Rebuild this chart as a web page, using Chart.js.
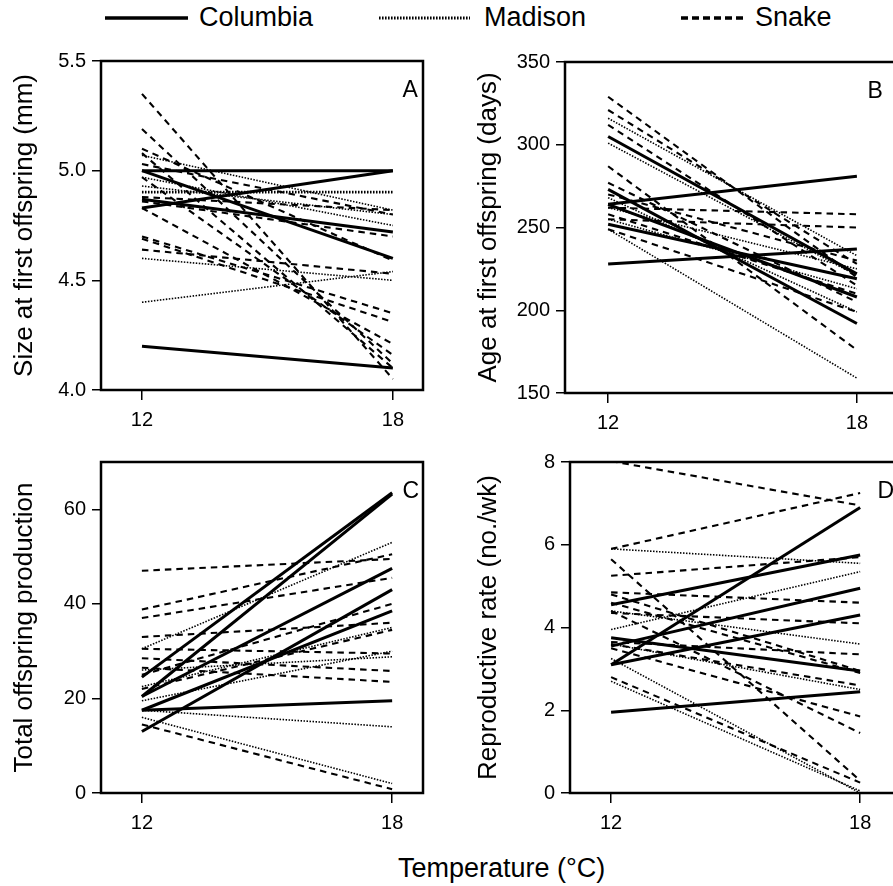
<!DOCTYPE html>
<html>
<head>
<meta charset="utf-8">
<title>Life history traits at 12 and 18 °C</title>
<script src="https://cdn.jsdelivr.net/npm/chart.js@4.4.1/dist/chart.umd.min.js"></script>
<style>
  html, body { margin: 0; padding: 0; background: #fff; overflow: hidden; width: 893px; height: 886px; }
  body { position: relative; font-family: "Liberation Sans", Arial, sans-serif; color: #000; }
  canvas { position: absolute; }
  .lab { position: absolute; font-size: 27px; line-height: 30px; white-space: nowrap; }
  svg.key { position: absolute; left: 0; top: 0; }
</style>
</head>
<body>
<svg class="key" width="893" height="40">
  <line x1="105" y1="18" x2="188" y2="18" stroke="#000" stroke-width="3.5"/>
  <line x1="379" y1="18" x2="470" y2="18" stroke="#000" stroke-width="3" stroke-dasharray="1.6 1.4"/>
  <line x1="681" y1="18" x2="746" y2="18" stroke="#000" stroke-width="3.5" stroke-dasharray="7 4"/>
</svg>
<div class="lab" style="left:199px;top:2px">Columbia</div>
<div class="lab" style="left:484px;top:2px">Madison</div>
<div class="lab" style="left:755px;top:2px">Snake</div>

<canvas id="panel-a" width="440" height="400" style="left:0;top:40px"></canvas>
<canvas id="panel-b" width="470" height="400" style="left:450px;top:40px"></canvas>
<canvas id="panel-c" width="440" height="400" style="left:0;top:440px"></canvas>
<canvas id="panel-d" width="470" height="400" style="left:450px;top:440px"></canvas>

<div class="lab" style="left:398px;top:853px">Temperature (°C)</div>

<script>
const TEMPS = [12, 18];

// each pair: [value at 12 °C, value at 18 °C]
const sizeColumbia = [[5.00, 5.00], [4.83, 5.00], [5.00, 4.60], [4.87, 4.72], [4.20, 4.10]];
const sizeMadison  = [[4.90, 4.90], [4.905, 4.905], [5.07, 4.82], [4.97, 4.75], [4.93, 4.80], [4.60, 4.50], [4.40, 4.54]];
const sizeSnake    = [[5.35, 4.05], [5.19, 4.12], [5.10, 4.59], [5.08, 4.10], [5.03, 4.80], [4.97, 4.16],
                      [4.88, 4.82], [4.86, 4.70], [4.83, 4.21], [4.70, 4.35], [4.69, 4.31], [4.64, 4.53]];

const ageColumbia = [[305, 222], [264, 281], [228, 237], [252, 219], [273, 192], [264, 208]];
const ageMadison  = [[301, 221], [249, 159], [316, 233], [268, 199], [262, 225], [255, 213]];
const ageSnake    = [[329, 220], [321, 228], [312, 215], [287, 176], [277, 205], [262, 258],
                     [255, 250], [249, 199], [270, 230], [258, 210]];

const totalColumbia = [[24.5, 63.5], [20.4, 63.2], [20.4, 47.5], [17.5, 38.5], [17.5, 19.5], [13.0, 43.0]];
const totalMadison  = [[16.0, 2.0], [17.5, 14.0], [30.5, 53.0], [22.5, 35.0], [26.0, 28.8], [19.5, 30.0]];
const totalSnake    = [[47.0, 49.5], [38.8, 50.5], [37.0, 45.5], [33.0, 36.0], [30.5, 29.5], [28.5, 25.8],
                       [26.5, 23.5], [25.0, 40.0], [14.5, 0.8], [22.0, 34.5]];

const rateColumbia = [[4.55, 5.75], [3.10, 6.90], [3.55, 4.95], [3.10, 4.30], [3.75, 2.95], [1.95, 2.45]];
const rateMadison  = [[5.90, 5.55], [3.95, 5.35], [2.70, 0.05], [3.60, 2.50], [4.40, 3.60], [3.25, 0.00]];
const rateSnake    = [[8.02, 6.95], [5.90, 7.25], [5.25, 5.70], [5.65, 0.30], [4.85, 4.60], [4.80, 2.95], [4.35, 4.10],
                      [4.40, 1.45], [3.65, 3.35], [3.60, 2.60], [3.50, 1.85], [2.80, 0.25], [4.60, 2.90]];

const sizeTicks  = [4.0, 4.5, 5.0, 5.5];
const ageTicks   = [150, 200, 250, 300, 350];
const totalTicks = [0, 20, 40, 60];
const rateTicks  = [0, 2, 4, 6, 8];

const FONT = '"Liberation Sans", Arial, sans-serif';
const TICK_FONT = { family: FONT, size: 20 };
const TITLE_FONT = { family: FONT, size: 26 };

const LINE_STYLES = {
    Columbia: { borderWidth: 3,   borderDash: [] },
    Madison:  { borderWidth: 1.6, borderDash: [1.5, 1.5] },
    Snake:    { borderWidth: 2.1, borderDash: [6.5, 5] },
};

const framePlugin = {
    id: 'frame',
    afterDatasetsDraw(chart) {
        const { ctx, chartArea: a } = chart;
        ctx.save();
        ctx.strokeStyle = '#000';
        ctx.lineWidth = 2.5;
        ctx.strokeRect(a.left, a.top, a.right - a.left, a.bottom - a.top);
        ctx.restore();
    }
};

const letterPlugin = {
    id: 'panelLetter',
    afterDraw(chart, args, opts) {
        const { ctx, chartArea, scales } = chart;
        ctx.save();
        ctx.font = `23px ${FONT}`;
        ctx.fillStyle = '#000';
        ctx.textAlign = 'right';
        ctx.textBaseline = 'alphabetic';
        ctx.fillText(opts.text, scales.x.getPixelForValue(18) + opts.dx, chartArea.top + 36);
        ctx.restore();
    }
};

function makeDatasets(groups) {
    // Columbia first so it is painted on top
    return groups.flatMap(([name, pairs]) => pairs.map(p => ({
        label: name,
        data: p.map((v, i) => ({ x: TEMPS[i], y: v })),
        borderColor: '#000',
        pointRadius: 0,
        fill: false,
        tension: 0,
        borderCapStyle: 'butt',
        ...LINE_STYLES[name]
    })));
}

function makePanel(id, cfg) {
    new Chart(document.getElementById(id), {
        type: 'line',
        data: { datasets: makeDatasets(cfg.groups) },
        options: {
            responsive: false,
            animation: false,
            events: [],
            layout: { padding: { top: cfg.padTop, right: cfg.padRight, left: 0, bottom: 0 } },
            plugins: {
                legend: { display: false },
                tooltip: { enabled: false },
                panelLetter: { text: cfg.letter, dx: cfg.letterDx }
            },
            scales: {
                x: {
                    type: 'linear',
                    min: cfg.xMin,
                    max: cfg.xMax,
                    afterBuildTicks: s => { s.ticks = TEMPS.map(v => ({ value: v })); },
                    afterFit: s => { s.height = cfg.xHeight; },
                    grid: { drawOnChartArea: false, drawTicks: true, tickLength: 10, color: '#000', lineWidth: 1.5 },
                    border: { display: false },
                    ticks: { color: '#000', font: TICK_FONT, padding: 8, maxRotation: 0 }
                },
                y: {
                    min: cfg.yTicks[0],
                    max: cfg.yMax,
                    afterBuildTicks: s => { s.ticks = cfg.yTicks.map(v => ({ value: v })); },
                    afterFit: s => { s.width = cfg.yWidth; },
                    grid: { drawOnChartArea: false, drawTicks: true, tickLength: 9, color: '#000', lineWidth: 1.5 },
                    border: { display: false },
                    ticks: { color: '#000', font: TICK_FONT, padding: 6, callback: cfg.fmt },
                    title: {
                        display: true,
                        text: cfg.title,
                        color: '#000',
                        font: TITLE_FONT,
                        padding: { top: cfg.titlePad, bottom: 0 }
                    }
                }
            }
        },
        plugins: [framePlugin, letterPlugin]
    });
}

makePanel('panel-a', {
    groups: [['Columbia', sizeColumbia], ['Madison', sizeMadison], ['Snake', sizeSnake]],
    yTicks: sizeTicks, yMax: 5.5, fmt: v => v.toFixed(1),
    title: 'Size at first offspring (mm)', letter: 'A', letterDx: 25,
    xMin: 11.02, xMax: 18.72, yWidth: 101, xHeight: 50, padTop: 21, padRight: 17, titlePad: 9.4
});

makePanel('panel-b', {
    groups: [['Columbia', ageColumbia], ['Madison', ageMadison], ['Snake', ageSnake]],
    yTicks: ageTicks, yMax: 350, fmt: v => v,
    title: 'Age at first offspring (days)', letter: 'B', letterDx: 26,
    xMin: 10.96, xMax: 19.04, yWidth: 115, xHeight: 47, padTop: 22, padRight: 20, titlePad: 23.4
});

makePanel('panel-c', {
    groups: [['Columbia', totalColumbia], ['Madison', totalMadison], ['Snake', totalSnake]],
    yTicks: totalTicks, yMax: 70, fmt: v => v,
    title: 'Total offspring production', letter: 'C', letterDx: 27,
    xMin: 11.02, xMax: 18.74, yWidth: 101, xHeight: 47, padTop: 22, padRight: 17, titlePad: 9.4
});

makePanel('panel-d', {
    groups: [['Columbia', rateColumbia], ['Madison', rateMadison], ['Snake', rateSnake]],
    yTicks: rateTicks, yMax: 8, fmt: v => v,
    title: 'Reproductive rate (no./wk)', letter: 'D', letterDx: 34,
    xMin: 11.01, xMax: 18.96, yWidth: 120, xHeight: 47, padTop: 22, padRight: 20, titlePad: 23.4
});
</script>
</body>
</html>
